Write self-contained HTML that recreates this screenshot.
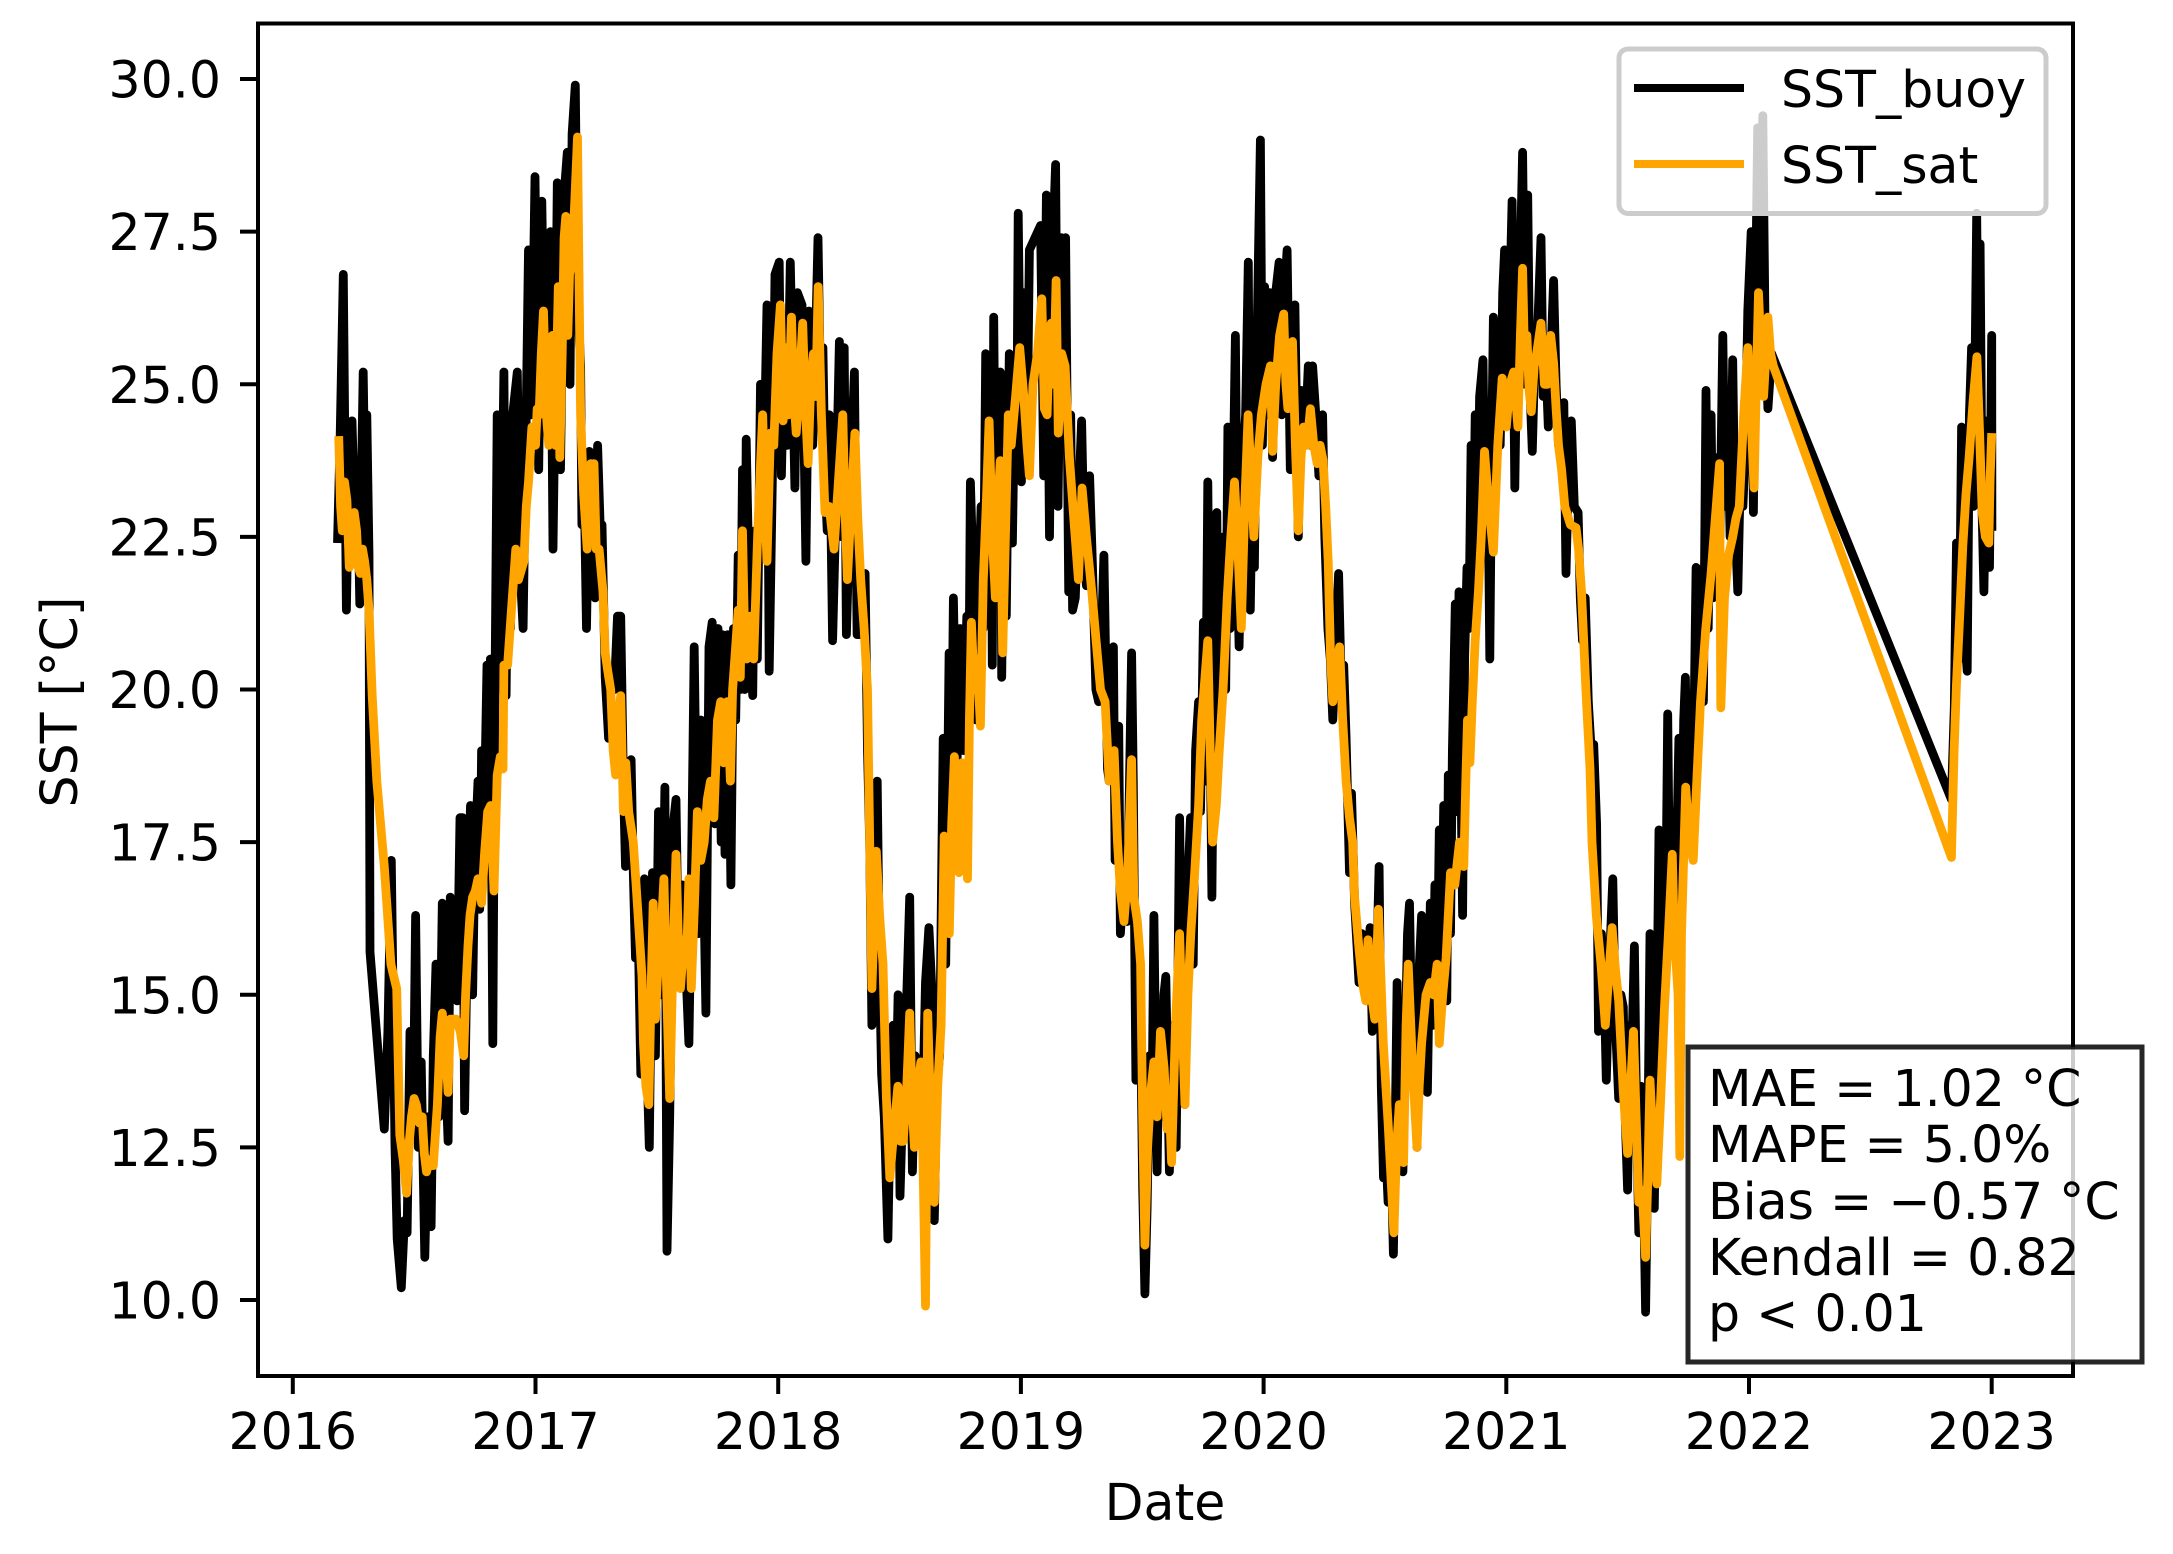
<!DOCTYPE html>
<html lang="en">
<head>
<meta charset="utf-8">
<title>SST buoy vs satellite</title>
<style>
html,body{margin:0;padding:0;background:#fff;}
svg{display:block;}
text{font-family:"DejaVu Sans","Liberation Sans",sans-serif;font-size:50.5px;fill:#000;}
</style>
</head>
<body>
<svg id="chart" xmlns="http://www.w3.org/2000/svg" width="2173" height="1554" viewBox="0 0 2173 1554">
  <rect x="0" y="0" width="2173" height="1554" fill="#fff"/>
  <g id="series"></g>
  <rect x="258" y="23.5" width="1815" height="1352.5" fill="none" stroke="#000" stroke-width="4"/>
  <g id="ticks"></g>
  <text x="1165" y="1520" text-anchor="middle">Date</text>
  <text transform="translate(77,702) rotate(-90)" text-anchor="middle">SST [°C]</text>
  <g>
    <rect x="1619" y="49" width="427" height="164.5" rx="9" ry="9" fill="#fff" fill-opacity="0.8" stroke="#ccc" stroke-width="5"/>
    <line x1="1634" y1="88" x2="1744" y2="88" stroke="#000" stroke-width="8"/>
    <text x="1781" y="107">SST_buoy</text>
    <line x1="1634" y1="164" x2="1744" y2="164" stroke="#ffa500" stroke-width="8"/>
    <text x="1781" y="183">SST_sat</text>
  </g>
  <g>
    <rect x="1688" y="1047" width="454" height="315" fill="#fff" fill-opacity="0.8" stroke="#000" stroke-opacity="0.85" stroke-width="5"/>
    <text x="1708" y="1106">MAE = 1.02 °C</text>
    <text x="1708" y="1162">MAPE = 5.0%</text>
    <text x="1708" y="1219">Bias = −0.57 °C</text>
    <text x="1708" y="1275">Kendall = 0.82</text>
    <text x="1708" y="1331">p &lt; 0.01</text>
  </g>
</svg>
<script>
const yTickValues = [10, 12.5, 15, 17.5, 20, 22.5, 25, 27.5, 30];
const yTickLabels = ["10.0", "12.5", "15.0", "17.5", "20.0", "22.5", "25.0", "27.5", "30.0"];
const xTickValues = [2016, 2017, 2018, 2019, 2020, 2021, 2022, 2023];
const xTickLabels = ["2016", "2017", "2018", "2019", "2020", "2021", "2022", "2023"];

const buoyDates = [
2016.184,2016.195,2016.208,2016.221,2016.233,2016.244,2016.257,2016.265,2016.276,2016.283,
2016.290,2016.300,2016.305,2016.314,2016.318,2016.377,2016.392,2016.406,2016.421,2016.430,
2016.447,2016.460,2016.471,2016.483,2016.496,2016.506,2016.517,2016.529,2016.544,2016.557,
2016.570,2016.579,2016.590,2016.603,2016.616,2016.627,2016.640,2016.649,2016.664,2016.677,
2016.689,2016.700,2016.708,2016.721,2016.732,2016.741,2016.750,2016.763,2016.770,2016.778,
2016.787,2016.800,2016.807,2016.814,2016.824,2016.831,2016.842,2016.849,2016.857,2016.870,
2016.879,2016.888,2016.897,2016.906,2016.925,2016.936,2016.949,2016.960,2016.971,2016.983,
2016.998,2017.013,2017.026,2017.039,2017.050,2017.062,2017.072,2017.083,2017.090,2017.103,
2017.118,2017.131,2017.142,2017.151,2017.164,2017.173,2017.186,2017.191,2017.200,2017.210,
2017.222,2017.233,2017.246,2017.256,2017.268,2017.274,2017.287,2017.301,2017.314,2017.325,
2017.338,2017.351,2017.362,2017.371,2017.381,2017.394,2017.403,2017.412,2017.421,2017.434,
2017.449,2017.462,2017.469,2017.482,2017.494,2017.507,2017.520,2017.533,2017.542,2017.553,
2017.568,2017.579,2017.590,2017.605,2017.619,2017.632,2017.641,2017.654,2017.669,2017.682,
2017.702,2017.715,2017.728,2017.739,2017.752,2017.765,2017.770,2017.781,2017.792,2017.805,
2017.816,2017.825,2017.835,2017.844,2017.853,2017.862,2017.868,2017.881,2017.895,2017.903,
2017.914,2017.927,2017.936,2017.945,2017.954,2017.963,2017.976,2017.987,2018.004,2018.013,
2018.024,2018.037,2018.050,2018.069,2018.079,2018.098,2018.114,2018.127,2018.142,2018.153,
2018.164,2018.176,2018.184,2018.193,2018.202,2018.211,2018.224,2018.235,2018.252,2018.263,
2018.272,2018.281,2018.294,2018.303,2018.314,2018.325,2018.340,2018.358,2018.368,2018.377,
2018.386,2018.397,2018.408,2018.417,2018.426,2018.437,2018.452,2018.463,2018.474,2018.484,
2018.494,2018.502,2018.515,2018.529,2018.542,2018.553,2018.564,2018.579,2018.594,2018.607,
2018.621,2018.634,2018.643,2018.653,2018.665,2018.680,2018.690,2018.704,2018.713,2018.722,
2018.735,2018.750,2018.763,2018.777,2018.785,2018.792,2018.805,2018.815,2018.825,2018.836,
2018.845,2018.855,2018.866,2018.877,2018.882,2018.888,2018.897,2018.906,2018.915,2018.921,
2018.930,2018.940,2018.952,2018.965,2018.975,2018.983,2018.989,2019.002,2019.012,2019.025,
2019.035,2019.081,2019.094,2019.105,2019.118,2019.129,2019.143,2019.153,2019.167,2019.175,
2019.184,2019.197,2019.205,2019.213,2019.224,2019.237,2019.250,2019.260,2019.270,2019.283,
2019.295,2019.309,2019.320,2019.333,2019.342,2019.357,2019.364,2019.381,2019.388,2019.403,
2019.410,2019.425,2019.438,2019.456,2019.463,2019.474,2019.483,2019.495,2019.502,2019.511,
2019.520,2019.530,2019.539,2019.548,2019.561,2019.570,2019.580,2019.589,2019.597,2019.612,
2019.625,2019.640,2019.654,2019.665,2019.675,2019.685,2019.699,2019.710,2019.720,2019.732,
2019.740,2019.752,2019.760,2019.770,2019.778,2019.787,2019.797,2019.807,2019.815,2019.825,
2019.835,2019.844,2019.853,2019.862,2019.873,2019.884,2019.892,2019.899,2019.910,2019.926,
2019.937,2019.945,2019.955,2019.962,2019.972,2019.987,2019.995,2020.004,2020.014,2020.025,
2020.037,2020.050,2020.064,2020.075,2020.088,2020.097,2020.110,2020.120,2020.129,2020.143,
2020.155,2020.170,2020.184,2020.195,2020.202,2020.215,2020.228,2020.243,2020.252,2020.265,
2020.275,2020.285,2020.297,2020.309,2020.320,2020.330,2020.340,2020.354,2020.362,2020.375,
2020.385,2020.393,2020.405,2020.420,2020.439,2020.448,2020.457,2020.466,2020.476,2020.485,
2020.494,2020.503,2020.513,2020.525,2020.535,2020.543,2020.550,2020.560,2020.574,2020.585,
2020.593,2020.601,2020.614,2020.623,2020.632,2020.642,2020.651,2020.663,2020.675,2020.687,
2020.697,2020.706,2020.715,2020.724,2020.733,2020.742,2020.755,2020.761,2020.770,2020.778,
2020.790,2020.797,2020.805,2020.812,2020.820,2020.828,2020.838,2020.846,2020.855,2020.862,
2020.872,2020.880,2020.890,2020.904,2020.912,2020.922,2020.932,2020.940,2020.947,2020.955,
2020.965,2020.975,2020.985,2020.993,2021.005,2021.015,2021.024,2021.035,2021.045,2021.055,
2021.067,2021.078,2021.088,2021.097,2021.107,2021.118,2021.130,2021.143,2021.152,2021.162,
2021.173,2021.184,2021.195,2021.205,2021.215,2021.225,2021.237,2021.246,2021.256,2021.268,
2021.280,2021.296,2021.305,2021.314,2021.325,2021.338,2021.350,2021.360,2021.372,2021.380,
2021.392,2021.404,2021.412,2021.425,2021.439,2021.450,2021.463,2021.472,2021.482,2021.490,
2021.500,2021.510,2021.520,2021.528,2021.537,2021.546,2021.556,2021.565,2021.574,2021.583,
2021.592,2021.602,2021.610,2021.620,2021.629,2021.638,2021.647,2021.655,2021.665,2021.673,
2021.685,2021.695,2021.711,2021.722,2021.731,2021.738,2021.748,2021.758,2021.770,2021.782,
2021.790,2021.800,2021.812,2021.823,2021.832,2021.844,2021.852,2021.860,2021.870,2021.880,
2021.892,2021.902,2021.912,2021.922,2021.933,2021.942,2021.954,2021.964,2021.975,2021.985,
2021.995,2022.009,2022.018,2022.027,2022.036,2022.045,2022.057,2022.066,2022.078,2022.093,
2022.834,2022.846,2022.855,2022.866,2022.876,2022.887,2022.899,2022.908,2022.917,2022.925,
2022.938,2022.945,2022.952,2022.960,2022.968,2022.979,2022.985,2022.991,2023.000,2023.001
];
const buoyValues = [
22.4,24.1,26.8,21.3,24.3,24.4,22.5,23.7,21.4,23.5,
25.2,22.6,24.5,22.2,15.7,12.8,14.4,17.2,12.5,11.0,
10.2,11.3,11.1,14.4,12.8,16.3,12.5,13.9,10.7,13.0,
11.2,14.0,15.5,13.0,16.5,14.0,12.6,16.6,15.4,14.9,
17.9,17.9,13.1,16.5,18.1,15.0,17.2,18.5,16.4,19.0,
17.5,20.4,18.0,20.5,14.2,19.0,24.5,20.0,21.5,25.2,
19.9,23.8,21.0,24.5,25.2,22.0,21.0,24.0,27.2,24.5,
28.4,23.6,28.0,24.5,26.9,27.5,22.3,25.5,28.3,23.6,
28.1,28.8,25.0,29.1,29.9,26.5,25.3,22.7,23.5,21.0,
23.9,22.0,21.5,24.0,22.5,22.7,20.2,19.2,20.3,20.0,
21.2,21.2,18.5,17.1,17.8,18.85,17.0,15.6,16.5,13.7,
16.9,13.5,12.5,17.0,14.0,18.0,15.0,18.4,10.8,13.0,
17.8,18.2,15.2,16.8,15.5,14.2,16.5,20.7,16.0,19.5,
14.7,20.7,21.1,17.8,21.0,17.5,20.9,17.3,20.9,16.8,
21.0,19.5,22.2,20.0,23.6,20.0,24.1,21.5,19.9,22.6,
20.5,25.0,22.5,24.5,26.3,20.3,23.5,26.8,27.0,23.5,
25.5,24.0,27.0,23.3,26.5,26.3,22.1,26.2,24.0,25.5,
27.4,24.5,25.6,23.5,22.6,24.5,20.8,22.5,25.7,22.5,
25.6,20.9,22.8,24.0,25.2,20.9,20.9,21.9,19.0,17.5,
14.5,16.5,18.5,15.5,13.7,13.0,11.0,13.5,14.5,13.0,
15.0,11.7,13.5,14.9,16.6,12.1,14.0,13.7,12.9,15.2,
16.1,15.0,11.3,13.5,14.0,19.2,15.5,20.6,18.0,21.5,
18.5,21.0,19.0,21.2,19.5,23.4,21.6,19.5,21.5,23.0,
21.0,25.5,21.5,24.5,20.4,26.1,22.0,24.5,25.2,20.2,
23.5,21.2,25.5,22.4,25.0,24.0,27.8,23.4,26.5,24.0,
27.2,27.6,23.5,28.1,22.5,27.0,28.6,23.0,27.4,24.0,
27.4,21.6,24.5,21.3,21.5,23.0,24.4,22.5,21.7,23.5,
22.0,20.0,19.8,21.0,22.2,18.7,18.5,20.7,17.2,19.4,
16.0,17.0,16.2,20.6,18.5,13.6,15.5,14.0,11.8,10.1,
11.5,14.0,12.5,16.3,12.1,14.5,13.0,15.0,15.3,12.1,
14.5,12.5,17.9,14.5,13.2,16.5,17.9,15.5,19.0,19.8,
18.0,21.1,18.5,23.4,20.0,16.6,21.0,22.9,19.0,21.5,
22.5,20.0,24.3,21.0,23.0,25.8,22.0,20.7,23.5,24.5,
27.0,21.3,24.0,22.0,25.5,29.0,24.0,26.6,24.5,26.5,
23.8,26.5,27.0,24.5,26.6,27.2,23.6,25.5,26.3,22.5,
24.9,24.0,25.3,24.0,25.3,24.5,23.5,24.5,22.5,21.0,
20.5,19.5,20.8,21.9,20.0,20.4,19.2,17.0,18.3,16.5,
15.8,15.2,16.0,15.0,16.1,14.4,15.0,15.5,17.1,13.5,
12.0,12.5,11.6,12.5,10.75,13.0,15.2,13.0,12.1,14.5,
16.0,16.5,13.5,15.0,12.5,15.5,16.3,14.0,13.4,16.5,
14.5,16.8,15.0,17.7,15.5,18.1,14.9,18.6,16.0,19.0,
21.4,18.0,21.6,19.0,16.3,20.5,22.0,21.0,24.0,21.5,
24.5,22.0,24.8,25.4,23.0,24.5,20.5,24.0,26.1,23.5,
26.0,24.0,26.5,27.2,24.5,26.5,28.0,23.3,26.0,26.5,
28.8,25.0,28.1,25.0,23.9,25.5,26.0,27.4,24.8,25.5,
24.3,25.5,26.7,25.0,24.0,24.5,24.7,21.9,23.5,24.4,
23.0,22.9,21.5,20.8,21.5,19.8,19.0,19.1,17.8,14.4,
16.0,15.0,13.6,15.5,16.9,14.5,13.3,15.0,14.8,13.0,
11.8,14.5,14.5,15.8,13.0,11.1,13.5,12.0,9.8,12.5,
16.0,13.0,11.5,14.5,17.7,15.0,17.0,15.5,19.6,16.5,
18.0,16.0,19.2,16.5,19.5,20.2,17.5,19.5,18.5,22.0,
20.0,21.5,19.8,24.9,21.0,24.5,21.5,22.5,23.8,22.5,
25.8,23.0,24.5,22.5,25.4,22.8,21.6,23.5,23.0,24.0,
26.2,27.5,22.9,26.5,29.2,26.0,29.4,26.0,24.6,25.5,
18.2,19.7,22.4,20.5,24.3,21.0,20.3,24.5,25.6,23.0,
27.8,24.5,27.3,23.0,21.6,24.4,22.2,22.0,25.8,22.6
];

const satDates = [
2016.189,2016.197,2016.204,2016.213,2016.223,2016.233,2016.244,2016.253,2016.263,2016.270,
2016.278,2016.287,2016.296,2016.305,2016.314,2016.327,2016.346,2016.377,2016.404,2016.428,
2016.441,2016.455,2016.469,2016.480,2016.489,2016.500,2016.509,2016.521,2016.533,2016.542,
2016.551,2016.565,2016.579,2016.596,2016.607,2016.616,2016.628,2016.640,2016.649,2016.672,
2016.690,2016.704,2016.712,2016.722,2016.730,2016.741,2016.752,2016.763,2016.778,2016.790,
2016.803,2016.815,2016.829,2016.842,2016.855,2016.866,2016.870,2016.885,2016.899,2016.919,
2016.930,2016.952,2016.962,2016.971,2016.985,2017.000,2017.007,2017.015,2017.024,2017.033,
2017.045,2017.055,2017.063,2017.070,2017.076,2017.082,2017.088,2017.094,2017.100,2017.110,
2017.118,2017.125,2017.133,2017.140,2017.150,2017.162,2017.173,2017.180,2017.186,2017.198,
2017.213,2017.220,2017.228,2017.236,2017.241,2017.250,2017.262,2017.278,2017.287,2017.298,
2017.310,2017.320,2017.330,2017.340,2017.351,2017.362,2017.372,2017.384,2017.403,2017.421,
2017.439,2017.445,2017.455,2017.467,2017.476,2017.485,2017.494,2017.505,2017.517,2017.529,
2017.541,2017.553,2017.566,2017.579,2017.588,2017.597,2017.612,2017.622,2017.632,2017.642,
2017.655,2017.667,2017.681,2017.695,2017.708,2017.721,2017.735,2017.750,2017.763,2017.775,
2017.790,2017.803,2017.812,2017.821,2017.835,2017.844,2017.853,2017.862,2017.870,2017.885,
2017.899,2017.915,2017.925,2017.936,2017.945,2017.954,2017.968,2017.982,2017.995,2018.009,
2018.020,2018.030,2018.042,2018.055,2018.064,2018.074,2018.087,2018.101,2018.112,2018.123,
2018.134,2018.145,2018.155,2018.165,2018.178,2018.193,2018.210,2018.230,2018.248,2018.266,
2018.275,2018.285,2018.300,2018.316,2018.328,2018.340,2018.354,2018.368,2018.377,2018.386,
2018.395,2018.404,2018.418,2018.432,2018.446,2018.460,2018.477,2018.493,2018.504,2018.515,
2018.530,2018.542,2018.552,2018.561,2018.575,2018.588,2018.597,2018.607,2018.616,2018.630,
2018.643,2018.657,2018.671,2018.684,2018.695,2018.705,2018.715,2018.726,2018.735,2018.745,
2018.757,2018.770,2018.780,2018.788,2018.796,2018.808,2018.820,2018.833,2018.845,2018.857,
2018.869,2018.882,2018.895,2018.905,2018.915,2018.925,2018.936,2018.948,2018.960,2018.978,
2018.995,2019.012,2019.025,2019.035,2019.050,2019.068,2019.086,2019.097,2019.108,2019.116,
2019.125,2019.135,2019.145,2019.154,2019.168,2019.182,2019.200,2019.218,2019.237,2019.252,
2019.270,2019.292,2019.310,2019.328,2019.347,2019.364,2019.384,2019.398,2019.410,2019.425,
2019.440,2019.456,2019.465,2019.480,2019.493,2019.502,2019.511,2019.522,2019.535,2019.548,
2019.561,2019.575,2019.590,2019.603,2019.612,2019.621,2019.637,2019.654,2019.665,2019.676,
2019.688,2019.700,2019.716,2019.732,2019.745,2019.770,2019.780,2019.790,2019.805,2019.816,
2019.833,2019.850,2019.865,2019.880,2019.894,2019.908,2019.922,2019.936,2019.948,2019.960,
2019.976,2019.991,2020.010,2020.028,2020.037,2020.050,2020.066,2020.083,2020.092,2020.100,
2020.110,2020.119,2020.131,2020.143,2020.154,2020.165,2020.179,2020.193,2020.207,2020.221,
2020.233,2020.245,2020.256,2020.266,2020.276,2020.285,2020.298,2020.313,2020.326,2020.340,
2020.354,2020.367,2020.375,2020.393,2020.407,2020.421,2020.430,2020.444,2020.458,2020.473,
2020.493,2020.513,2020.525,2020.537,2020.548,2020.559,2020.568,2020.577,2020.587,2020.596,
2020.614,2020.632,2020.641,2020.651,2020.669,2020.687,2020.700,2020.715,2020.724,2020.738,
2020.752,2020.770,2020.788,2020.807,2020.825,2020.833,2020.840,2020.850,2020.860,2020.872,
2020.885,2020.897,2020.910,2020.928,2020.947,2020.965,2020.983,2021.000,2021.015,2021.030,
2021.048,2021.058,2021.067,2021.076,2021.085,2021.094,2021.103,2021.115,2021.125,2021.143,
2021.157,2021.170,2021.183,2021.195,2021.205,2021.215,2021.228,2021.241,2021.264,2021.287,
2021.298,2021.310,2021.328,2021.345,2021.353,2021.371,2021.390,2021.408,2021.422,2021.436,
2021.450,2021.463,2021.482,2021.500,2021.512,2021.524,2021.535,2021.546,2021.560,2021.574,
2021.583,2021.592,2021.606,2021.620,2021.636,2021.652,2021.668,2021.684,2021.692,2021.700,
2021.708,2021.715,2021.722,2021.739,2021.755,2021.770,2021.785,2021.800,2021.822,2021.844,
2021.861,2021.879,2021.884,2021.899,2021.916,2021.933,2021.946,2021.960,2021.978,2021.995,
2022.008,2022.021,2022.030,2022.039,2022.050,2022.060,2022.070,2022.078,2022.089,2022.100,
2022.834,2022.845,2022.855,2022.868,2022.881,2022.894,2022.907,2022.923,2022.939,2022.950,
2022.961,2022.974,2022.988,2022.994,2023.000
];
const satValues = [
24.15,23.0,22.6,23.4,23.1,22.0,22.1,22.9,22.6,22.0,
21.9,22.3,22.1,21.8,21.3,19.9,18.5,17.1,15.5,15.1,
12.7,12.3,11.75,12.6,13.0,13.3,13.2,12.9,13.0,12.4,
12.1,12.3,12.2,13.2,14.3,14.7,14.2,13.4,14.6,14.6,
14.4,14.0,15.0,15.8,16.3,16.6,16.7,16.9,16.5,17.3,
18.0,18.1,16.7,18.6,18.9,18.7,20.4,20.4,21.2,22.3,
21.8,22.1,23.0,23.4,24.3,24.0,24.6,24.5,25.5,26.2,
24.5,24.0,25.5,25.8,24.2,24.0,25.5,26.6,23.8,25.5,
27.4,27.75,25.8,26.8,27.0,28.0,29.05,26.5,24.5,23.2,
22.3,23.3,23.7,22.5,23.7,22.3,22.3,21.6,20.6,20.3,
20.0,19.0,18.6,19.5,19.9,18.0,18.8,18.0,17.5,16.4,
15.3,14.2,13.5,13.2,15.0,16.5,14.6,15.5,16.0,16.9,
15.0,13.3,15.5,17.3,16.0,15.1,15.9,15.5,16.9,15.1,
16.5,18.0,17.2,17.5,18.2,18.5,17.9,19.5,19.8,18.8,
19.8,18.5,20.0,20.5,21.3,20.2,22.6,20.8,20.5,21.2,
20.5,22.5,23.5,24.5,23.0,22.1,24.2,24.0,25.5,26.3,
24.4,25.6,24.5,26.1,24.8,24.2,25.0,26.0,24.6,23.7,
25.0,25.5,24.8,26.6,24.5,22.9,23.0,22.3,23.4,24.5,
23.0,21.8,23.0,24.2,22.8,21.8,21.0,20.0,17.5,15.1,
16.2,17.35,16.3,15.5,13.3,12.0,12.8,13.5,12.6,12.6,
13.5,14.7,13.2,12.5,13.5,13.9,12.2,9.9,14.7,12.8,
11.6,13.5,14.5,17.6,16.7,16.0,17.8,18.9,18.0,17.0,
18.8,18.5,16.9,19.5,21.1,20.0,20.5,19.4,21.8,23.0,
24.4,22.5,21.5,23.0,23.75,20.6,22.5,24.5,24.0,24.8,
25.6,24.8,24.0,23.5,25.0,25.5,26.4,24.6,24.5,25.6,
26.0,25.0,26.7,24.2,25.5,25.3,23.8,22.8,21.8,23.3,
22.5,21.6,20.8,20.0,19.8,18.5,19.0,17.5,16.7,16.2,
17.0,18.85,16.6,16.2,15.5,13.0,10.9,12.5,13.4,13.9,
13.0,14.4,13.8,12.8,13.2,12.25,14.5,16.0,14.5,13.2,
15.0,16.0,17.0,18.1,19.5,20.8,19.0,17.5,18.1,18.9,
20.0,21.5,22.5,23.4,22.3,21.0,23.0,24.5,23.5,22.5,
23.8,24.5,25.0,25.3,23.9,25.0,25.8,26.15,25.0,24.6,
25.5,25.7,24.0,22.6,23.8,24.3,24.0,24.6,24.0,23.7,
24.0,23.75,23.0,22.1,20.5,19.8,20.3,20.7,19.5,18.5,
17.9,17.5,16.6,15.75,15.2,14.9,15.9,15.0,14.6,16.4,
14.2,12.9,12.0,11.1,12.5,13.2,12.7,12.25,14.5,15.5,
13.8,12.5,13.5,14.2,15.0,15.2,15.0,15.5,14.2,15.0,
15.6,17.0,16.8,17.5,17.1,18.5,19.5,18.8,19.8,20.8,
21.6,22.5,23.9,23.0,22.25,24.0,25.1,24.3,25.0,25.2,
24.3,25.8,26.9,25.3,25.8,24.9,24.55,25.3,25.5,26.0,
25.0,25.0,25.8,25.35,24.6,24.0,23.6,23.0,22.7,22.65,
22.3,21.6,20.0,18.7,17.5,16.3,15.5,14.5,15.3,16.1,
15.4,14.9,13.4,12.4,13.5,14.4,13.0,11.6,11.8,10.7,
12.0,13.6,12.5,11.9,13.3,14.8,16.0,17.3,16.0,15.5,
15.0,12.35,16.0,18.4,17.5,17.2,18.5,19.8,21.0,21.9,
22.8,23.7,19.7,21.5,22.2,22.5,22.8,23.0,24.5,25.6,
24.5,23.3,25.0,26.5,25.5,24.8,25.5,26.1,25.5,25.3,
17.25,19.0,20.1,21.2,22.35,23.2,23.8,24.7,25.45,24.2,
22.9,22.5,22.4,23.5,24.2
];

const NS = "http://www.w3.org/2000/svg";
const xScale = function (year) { return 292.8 + (year - 2016) * 242.7; };
const yScale = function (value) { return 1300 - (value - 10) * 61.05; };

function seriesPath(dates, values) {
  let d = "";
  const n = Math.min(dates.length, values.length);
  for (let i = 0; i < n; i++) {
    d += (i === 0 ? "M" : "L") + xScale(dates[i]).toFixed(1) + " " + yScale(values[i]).toFixed(1);
  }
  return d;
}

const seriesGroup = document.getElementById("series");

const buoyLine = document.createElementNS(NS, "path");


buoyLine.setAttribute("d", seriesPath(buoyDates, buoyValues));
buoyLine.setAttribute("fill", "none");
buoyLine.setAttribute("stroke", "#000");
buoyLine.setAttribute("stroke-width", "8.8");
buoyLine.setAttribute("stroke-linejoin", "round");
seriesGroup.appendChild(buoyLine);

const satLine = document.createElementNS(NS, "path");


satLine.setAttribute("d", seriesPath(satDates, satValues));
satLine.setAttribute("fill", "none");
satLine.setAttribute("stroke", "#ffa500");
satLine.setAttribute("stroke-width", "8.8");
satLine.setAttribute("stroke-linejoin", "round");
seriesGroup.appendChild(satLine);

const tickGroup = document.getElementById("ticks");

yTickValues.forEach(function (value, i) {
  const py = yScale(value);
  const mark = document.createElementNS(NS, "line");
  
  
  mark.setAttribute("x1", 258);
  mark.setAttribute("x2", 240);
  mark.setAttribute("y1", py);
  mark.setAttribute("y2", py);
  mark.setAttribute("stroke", "#000");
  mark.setAttribute("stroke-width", "4");
  tickGroup.appendChild(mark);
  const label = document.createElementNS(NS, "text");
  
  
  label.setAttribute("x", 221);
  label.setAttribute("y", py + 18.5);
  label.setAttribute("text-anchor", "end");
  label.textContent = yTickLabels[i];
  tickGroup.appendChild(label);
});

xTickValues.forEach(function (year, i) {
  const px = xScale(year);
  const mark = document.createElementNS(NS, "line");
  
  
  mark.setAttribute("x1", px);
  mark.setAttribute("x2", px);
  mark.setAttribute("y1", 1376);
  mark.setAttribute("y2", 1394);
  mark.setAttribute("stroke", "#000");
  mark.setAttribute("stroke-width", "4");
  tickGroup.appendChild(mark);
  const label = document.createElementNS(NS, "text");
  
  
  label.setAttribute("x", px);
  label.setAttribute("y", 1449);
  label.setAttribute("text-anchor", "middle");
  label.textContent = xTickLabels[i];
  tickGroup.appendChild(label);
});
</script>
</body>
</html>
